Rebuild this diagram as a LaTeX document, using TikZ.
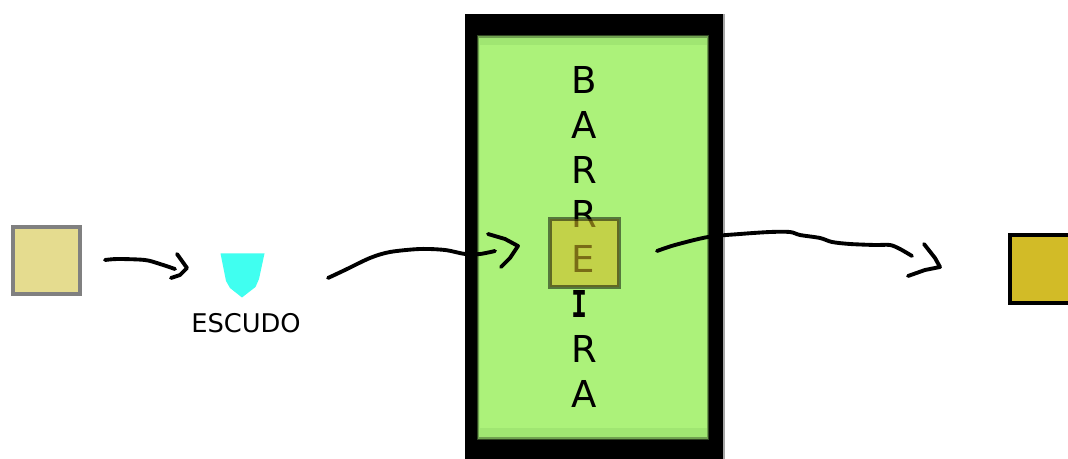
\documentclass[tikz,border=0pt]{standalone}
\usepackage{fontspec}
\setmainfont{DejaVu Sans}
\newfontfamily\monoI[FakeStretch=0.72]{DejaVu Sans Mono Bold}
\definecolor{barrim}{HTML}{A0E672}
\definecolor{bargreen}{HTML}{ACF27A}
\definecolor{sandfill}{HTML}{E5DC8F}
\definecolor{goldfill}{HTML}{D2BB27}
\definecolor{shieldcyan}{HTML}{40FFF0}
\tikzset{
  x=0.75pt,y=-0.75pt,
  handline/.style={draw=black,line width=2.9pt,line cap=round,line join=round,tension=0.5},
  squarebox/.style={line width=3pt,rectangle},
}
\begin{document}
\begin{tikzpicture}
\clip (0,0) rectangle (1068,459);
\fill[white] (0,0) rectangle (1068,459);
% barrier
\fill[black!35] (465,14) rectangle (725,470);
\fill[black] (465,14) rectangle (723,470);
\fill[black!70!barrim] (477,35) rectangle (709,440);
\fill[black!30!barrim] (478,36) rectangle (708,439);
\fill[barrim] (479,38) rectangle (707,437);
\node[fill=bargreen,inner sep=0pt,anchor=north west,
      minimum width=170pt,minimum height=287pt] (bar) at (480,45) {};
\node[inner sep=0pt,anchor=north west,align=left,font=\fontsize{27.8pt}{33.65pt}\selectfont] (word) at (571.3,66)
  {B\\A\\R\\R\\E\\{\monoI I}\\R\\A};
% squares
\draw[squarebox,draw=black!50,fill=sandfill] (13,227) rectangle (79.5,294);
\node[inner sep=0pt] (sq1) at (46,260.5) {};
\draw[squarebox,draw=black,fill=goldfill] (1010,235.5) rectangle (1090,303);
\node[inner sep=0pt] (sq2) at (1040,269) {};
\draw[squarebox,draw=black,draw opacity=0.5,fill=goldfill,fill opacity=0.58] (550,219.5) rectangle (618.5,287.5);
\node[inner sep=0pt] (core) at (584,253.5) {};
% shield
\fill[shieldcyan] (220.5,253.5) -- (264.5,253.5) -- (259,279) -- (255.5,287) -- (242,297.5) -- (230,288) -- (226,281) -- cycle;
\node[inner sep=0pt] (shield) at (242,275) {};
\node[inner sep=0pt,font=\fontsize{19.3pt}{22pt}\selectfont] (escudo) at (246,323.5) {ESCUDO};
% connectors
\coordinate (a1s) at (105,260); \coordinate (a1e) at (175,269); \coordinate (a1t) at (187,268);
\coordinate (a2s) at (328,278); \coordinate (a2e) at (495,251); \coordinate (a2t) at (518,246);
\coordinate (a3s) at (657,251); \coordinate (a3e) at (912,256); \coordinate (a3t) at (940,267);
\draw[handline] plot[smooth] coordinates {(a1s) (118,259) (145,260) (160,264) (a1e)};
\draw[handline] (177,254) -- (a1t) -- (180,275) -- (171,278);
\draw[handline] plot[smooth] coordinates {(a2s) (345,270) (370,258) (390,252) (420,249) (445,250) (465,254) (480,254) (a2e)};
\draw[handline] (488,234) -- (505,239) -- (a2t) -- (510,258) -- (501,267);
\draw[handline] plot[smooth] coordinates {(a3s) (675,245) (708,237) (740,234) (770,232) (790,232) (800,235) (820,238) (832,242) (850,244) (875,245) (890,245) (900,249) (a3e)};
\draw[handline] (924,244) -- (935,258) -- (a3t) -- (925,270) -- (908,276);
\end{tikzpicture}
\end{document}
